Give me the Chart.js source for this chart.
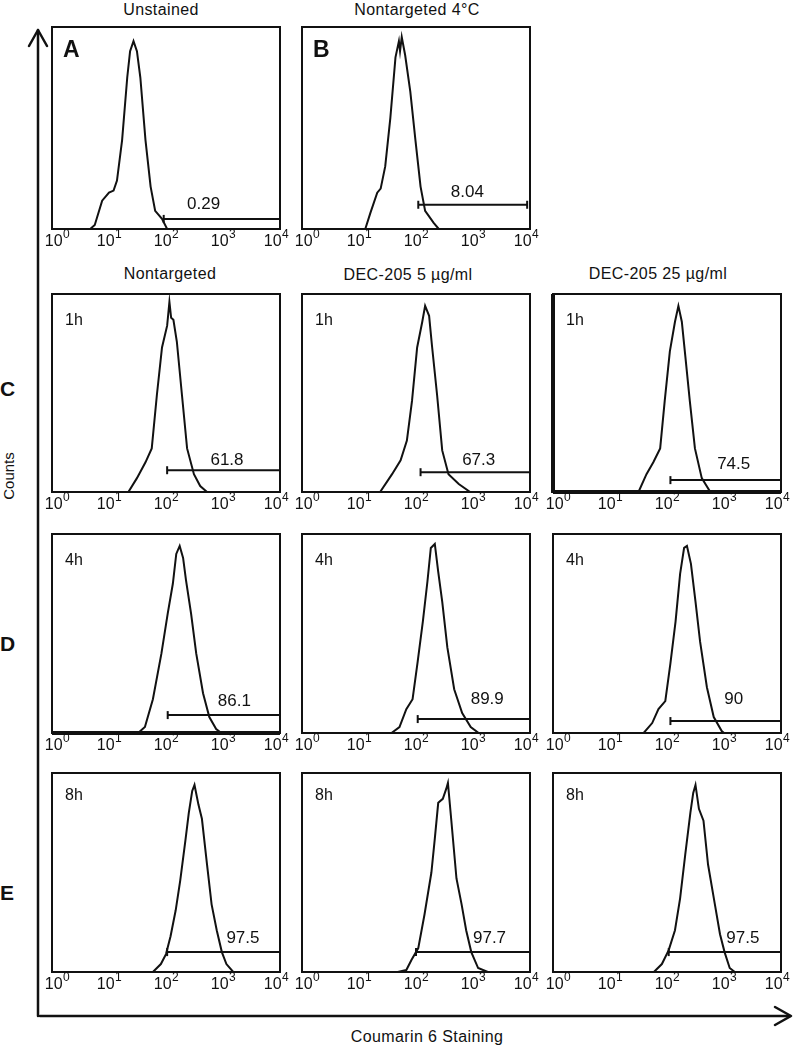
<!DOCTYPE html>
<html>
<head>
<meta charset="utf-8">
<script src="https://cdn.jsdelivr.net/npm/chart.js@4.4.1/dist/chart.umd.min.js"></script>
<style>
  body { margin: 0; background: #fff; }
  #fig { position: relative; width: 795px; height: 1048px; overflow: hidden;
         font-family: "Liberation Sans", Arial, sans-serif; color: #111; }
  #fig canvas, #fig svg { position: absolute; }
  .t { position: absolute; font-size: 16px; letter-spacing: 0.4px; white-space: nowrap; transform: translate(-50%, -50%); }
  .row { position: absolute; left: 0; font-size: 21px; font-weight: bold; transform: translateY(-50%); }
  .ylab { position: absolute; font-size: 15px; transform: translate(-50%, -50%) rotate(-90deg); }
</style>
</head>
<body>
<div id="fig">
  <svg width="795" height="1048" style="left:0;top:0">
    <g stroke="#111" stroke-width="2.5" fill="none" stroke-linecap="round" stroke-linejoin="round">
      <line x1="38" y1="30" x2="38" y2="1016"/>
      <polyline points="29,46 38,30 47,46"/>
      <line x1="40" y1="1016" x2="790" y2="1016"/>
      <polyline points="775,1007 791,1016 775,1025"/>
    </g>
  </svg>
  <div class="t" style="left:161px;top:10px">Unstained</div>
  <div class="t" style="left:417px;top:10px">Nontargeted 4°C</div>
  <div class="t" style="left:170px;top:274px">Nontargeted</div>
  <div class="t" style="left:408px;top:275px">DEC-205 5 µg/ml</div>
  <div class="t" style="left:658px;top:274px">DEC-205 25 µg/ml</div>
  <div class="row" style="top:389px">C</div>
  <div class="row" style="top:644px">D</div>
  <div class="row" style="top:893px">E</div>
  <div class="ylab" style="left:8px;top:476px">Counts</div>
  <div class="t" style="left:427px;top:1037px">Coumarin 6 Staining</div>
</div>

<script>
// ---------------------- Data (x = log10 fluorescence, y = % of max counts) ----------------------
const tickBase = '10';
const tickExp = ['0', '1', '2', '3', '4'];

const unstained    = [[0.67,0],[0.75,2],[0.88,14],[1.0,18],[1.08,19],[1.14,24],[1.23,44],[1.32,75],[1.37,88],[1.43,93],[1.49,88],[1.55,75],[1.64,44],[1.73,21],[1.81,9],[1.93,5],[2.02,0]];
const nontarget4C  = [[1.11,0],[1.2,8],[1.32,18],[1.38,20],[1.46,31],[1.55,55],[1.64,85],[1.7,93],[1.72,88],[1.75,95],[1.81,86],[1.9,68],[1.99,44],[2.08,21],[2.16,9],[2.31,3],[2.4,0]];
const nontarget1h  = [[1.34,0],[1.49,7],[1.64,15],[1.75,22],[1.84,49],[1.93,73],[2.02,84],[2.06,96],[2.09,88],[2.13,87],[2.19,76],[2.28,49],[2.37,22],[2.49,9],[2.6,3],[2.72,0]];
const dec5_1h      = [[1.37,0],[1.58,9],[1.73,16],[1.84,26],[1.93,46],[2.02,73],[2.11,86],[2.16,94],[2.23,89],[2.28,74],[2.37,49],[2.46,21],[2.57,9],[2.75,4],[2.95,0]];
const dec25_1h     = [[1.5,0],[1.64,9],[1.76,15],[1.88,22],[1.96,46],[2.05,71],[2.14,86],[2.2,94],[2.26,86],[2.32,69],[2.4,46],[2.49,22],[2.61,7],[2.76,0]];
const nontarget4h  = [[1.51,0],[1.63,3],[1.77,17],[1.92,40],[2.03,60],[2.12,75],[2.18,90],[2.24,94],[2.3,88],[2.35,77],[2.44,60],[2.53,40],[2.65,20],[2.76,8],[2.88,2],[2.97,0]];
const dec5_4h      = [[1.57,0],[1.71,3],[1.83,12],[1.94,17],[2.03,36],[2.12,56],[2.2,76],[2.26,93],[2.33,95],[2.39,81],[2.46,66],[2.55,43],[2.67,22],[2.81,10],[2.96,3],[3.1,0]];
const dec25_4h     = [[1.59,0],[1.74,5],[1.85,12],[1.97,16],[2.06,35],[2.15,56],[2.23,80],[2.3,93],[2.35,94],[2.42,85],[2.5,66],[2.58,46],[2.7,23],[2.82,8],[2.96,1],[3.0,0]];
const nontarget8h  = [[1.77,0],[1.91,4],[2.0,9],[2.08,18],[2.17,31],[2.25,46],[2.34,66],[2.4,80],[2.46,91],[2.5,94],[2.57,84],[2.63,77],[2.72,54],[2.8,34],[2.89,21],[2.98,10],[3.06,4],[3.18,0]];
const dec5_8h      = [[1.68,0],[1.83,1],[1.92,6],[2.04,12],[2.15,29],[2.27,50],[2.33,67],[2.39,85],[2.47,87],[2.53,92],[2.56,95],[2.62,76],[2.71,47],[2.8,34],[2.88,21],[2.97,10],[3.09,2],[3.26,0]];
const dec25_8h     = [[1.77,0],[1.91,4],[2.03,11],[2.14,21],[2.23,37],[2.32,59],[2.41,80],[2.46,90],[2.5,94],[2.56,82],[2.64,76],[2.72,54],[2.84,34],[2.93,19],[3.01,10],[3.1,2],[3.19,0]];

// gates (one entry per panel, in panel order below)
const gateFrom   = [1.96, 2.04, 2.02, 2.08, 2.06, 2.03, 2.03, 2.06, 2.02, 2.0, 2.03];
const gateTo     = [4, 3.95, 4, 4, 4, 4, 4, 4, 4, 4, 4];
const gateLevel  = [5, 12, 11, 10, 6, 9, 7, 6, 10, 10, 10];
const gateText   = ['0.29', '8.04', '61.8', '67.3', '74.5', '86.1', '89.9', '90', '97.5', '97.7', '97.5'];
const gateTextX  = [2.66, 2.9, 3.07, 3.1, 3.17, 3.2, 3.25, 3.17, 3.35, 3.29, 3.33];
const gateTextY  = [12, 18, 16, 16, 14, 16, 17, 17, 17, 17, 17];

// ---------------------- Layout ----------------------
const COL_X = [52, 302, 553];
const BOX_W = 228;
const ROWS = {
  AB: { top: 25,  h: 204 },
  C:  { top: 292, h: 200 },
  D:  { top: 532, h: 201 },
  E:  { top: 771, h: 201 },
};
const PADX = 18, PADT = 4, BELOW = 24;

const panels = [
  { row: 'AB', col: 0, hist: unstained,   tag: 'A',  bold: true },
  { row: 'AB', col: 1, hist: nontarget4C, tag: 'B',  bold: true },
  { row: 'C',  col: 0, hist: nontarget1h, tag: '1h' },
  { row: 'C',  col: 1, hist: dec5_1h,     tag: '1h' },
  { row: 'C',  col: 2, hist: dec25_1h,    tag: '1h', thick: ['left', 'bottom'] },
  { row: 'D',  col: 0, hist: nontarget4h, tag: '4h', thick: ['bottom'] },
  { row: 'D',  col: 1, hist: dec5_4h,     tag: '4h' },
  { row: 'D',  col: 2, hist: dec25_4h,    tag: '4h' },
  { row: 'E',  col: 0, hist: nontarget8h, tag: '8h' },
  { row: 'E',  col: 1, hist: dec5_8h,     tag: '8h' },
  { row: 'E',  col: 2, hist: dec25_8h,    tag: '8h' },
];

const FONT = '"Liberation Sans", Arial, sans-serif';
Chart.defaults.font.family = FONT;
Chart.defaults.color = '#111';

const INK = '#111';

// box frame, 10^n tick labels, inside labels
const panelDecor = {
  id: 'panelDecor',
  afterDraw(chart, args, opts) {
    const { ctx, chartArea: a, scales } = chart;
    ctx.save();
    ctx.strokeStyle = INK;
    ctx.lineWidth = 2;
    ctx.strokeRect(a.left, a.top, a.right - a.left, a.bottom - a.top);
    ctx.lineWidth = 4;
    (opts.thick || []).forEach(side => {
      ctx.beginPath();
      if (side === 'left')   { ctx.moveTo(a.left, a.top); ctx.lineTo(a.left, a.bottom + 1); }
      if (side === 'bottom') { ctx.moveTo(a.left, a.bottom); ctx.lineTo(a.right, a.bottom); }
      ctx.stroke();
    });

    ctx.fillStyle = INK;
    ctx.textBaseline = 'alphabetic';
    ctx.textAlign = 'left';

    // x tick labels: "10" with raised exponent
    tickExp.forEach((e, v) => {
      ctx.font = `16px ${FONT}`;
      const wb = ctx.measureText(tickBase).width;
      ctx.font = `12px ${FONT}`;
      const we = ctx.measureText(e).width;
      let px = scales.x.getPixelForValue(v);
      if (v === 0) px += 5;
      if (v === tickExp.length - 1) px -= 4;
      const x0 = px - (wb + we) / 2;
      ctx.font = `16px ${FONT}`;
      ctx.fillText(tickBase, x0, a.bottom + 17);
      ctx.font = `12px ${FONT}`;
      ctx.fillText(e, x0 + wb + 0.5, a.bottom + 9);
    });

    if (opts.bold) {
      ctx.font = `bold 23px ${FONT}`;
      ctx.fillText(opts.tag, a.left + 11, a.top + 30);
    } else {
      ctx.font = `16px ${FONT}`;
      ctx.fillText(opts.tag, a.left + 13, a.top + (opts.row === 'E' ? 27 : 31));
    }

    ctx.font = `17px ${FONT}`;
    ctx.textAlign = 'center';
    ctx.textBaseline = 'middle';
    ctx.fillText(opts.gateLabel,
      scales.x.getPixelForValue(opts.gateX),
      scales.y.getPixelForValue(opts.gateY));
    ctx.restore();
  },
};

const fig = document.getElementById('fig');

panels.forEach((p, i) => {
  const r = ROWS[p.row];
  const canvas = document.createElement('canvas');
  canvas.width = BOX_W + 2 * PADX;
  canvas.height = PADT + r.h + BELOW;
  canvas.style.left = (COL_X[p.col] - PADX) + 'px';
  canvas.style.top = (r.top - PADT) + 'px';
  fig.appendChild(canvas);

  new Chart(canvas, {
    type: 'line',
    data: {
      datasets: [
        {
          data: p.hist.map(([x, y]) => ({ x, y })),
          borderColor: INK,
          borderWidth: 2,
          pointRadius: 0,
          tension: 0,
        },
        {
          data: [{ x: gateFrom[i], y: gateLevel[i] }, { x: gateTo[i], y: gateLevel[i] }],
          borderColor: INK,
          borderWidth: 2,
          pointStyle: 'line',
          rotation: 90,
          pointRadius: 4,
          pointBorderWidth: 2,
          pointBorderColor: INK,
          clip: false,
        },
      ],
    },
    options: {
      responsive: false,
      animation: false,
      events: [],
      layout: { padding: { left: PADX, right: PADX, top: PADT, bottom: BELOW } },
      plugins: {
        legend: { display: false },
        tooltip: { enabled: false },
        panelDecor: {
          tag: p.tag, bold: !!p.bold, row: p.row, thick: p.thick,
          gateLabel: gateText[i], gateX: gateTextX[i], gateY: gateTextY[i],
        },
      },
      scales: {
        x: { type: 'linear', display: false, min: 0, max: 4 },
        y: { display: false, min: 0, max: 100 },
      },
    },
    plugins: [panelDecor],
  });
});
</script>
</body>
</html>
